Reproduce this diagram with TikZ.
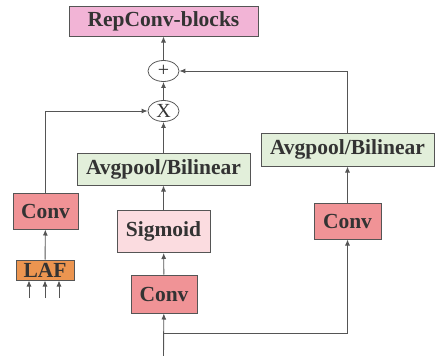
\documentclass[tikz,border=0pt]{standalone}
\usepackage{fontspec}
\setmainfont{Liberation Serif}
\usetikzlibrary{arrows.meta,shapes.geometric}

\definecolor{linegray}{HTML}{555555}
\definecolor{textgray}{HTML}{333333}
\definecolor{repfill}{HTML}{F2B4D6}
\definecolor{poolfill}{HTML}{E2EFDA}
\definecolor{convfill}{HTML}{F09396}
\definecolor{sigfill}{HTML}{FBDCE0}
\definecolor{laffill}{HTML}{EC9550}

\tikzset{
  blk/.style={draw=linegray, line width=1pt, text=textgray, inner sep=0pt,
    font=\bfseries\fontsize{21.5}{24}\selectfont},
  opnode/.style={ellipse, draw=linegray, line width=0.8pt, fill=white, inner sep=0pt,
    minimum width=31pt, minimum height=21pt, text=textgray, font=\fontsize{20}{22}\selectfont},
  arr/.style={draw=linegray, line width=0.9pt, -{Latex[length=6pt,width=5pt]}}
}

\begin{document}
\begin{tikzpicture}[x=1pt,y=-1pt]
  \useasboundingbox (0,0) rectangle (445,356);

  % top of the block
  \node[blk, fill=repfill, minimum width=189pt, minimum height=30pt] (rep) at (163.5,21) {RepConv-blocks};
  \node[opnode] (plus) at (163.5,71) {+};
  \node[opnode] (mul) at (163.5,111) {X};

  % middle branch
  \node[blk, fill=poolfill, minimum width=173pt, minimum height=32pt] (poolL) at (163.5,169) {Avgpool/Bilinear};
  \node[blk, fill=sigfill, minimum width=93pt, minimum height=42pt] (sig) at (163.5,231.5) {Sigmoid};
  \node[blk, fill=convfill, minimum width=66pt, minimum height=38pt] (convM) at (164,294) {Conv};

  % left branch
  \node[blk, fill=convfill, minimum width=65pt, minimum height=36pt] (convL) at (45.5,211) {Conv};
  \node[blk, fill=laffill, minimum width=58pt, minimum height=20pt] (laf) at (45,270) {LAF};

  % right branch
  \node[blk, fill=poolfill, minimum width=173pt, minimum height=33pt] (poolR) at (347.5,149.5) {Avgpool/Bilinear};
  \node[blk, fill=convfill, minimum width=67pt, minimum height=36pt] (convR) at (347.5,221) {Conv};

  % input
  \coordinate (in) at (163.5,356);
  \coordinate (split) at (163.5,333);
  \foreach \i/\x in {1/29,2/45,3/59}
    \coordinate (lafin\i) at (\x,298);

  % connections
  \draw[arr] (plus) -- (rep);
  \draw[arr] (mul) -- (plus);
  \draw[arr] (poolL) -- (mul);
  \draw[arr] (sig) -- (poolL);
  \draw[arr] (convM) -- (sig);
  \draw[arr] (in) -- (convM);
  \draw[arr] (split) -| (convR);
  \draw[arr] (convR) -- (poolR);
  \draw[arr] (poolR.north) |- (plus);
  \draw[arr] (convL.north) |- (mul);
  \draw[arr] (laf) -- (convL);
  \foreach \i in {1,2,3}
    \draw[arr] (lafin\i) -- (lafin\i |- laf.south);
\end{tikzpicture}
\end{document}
